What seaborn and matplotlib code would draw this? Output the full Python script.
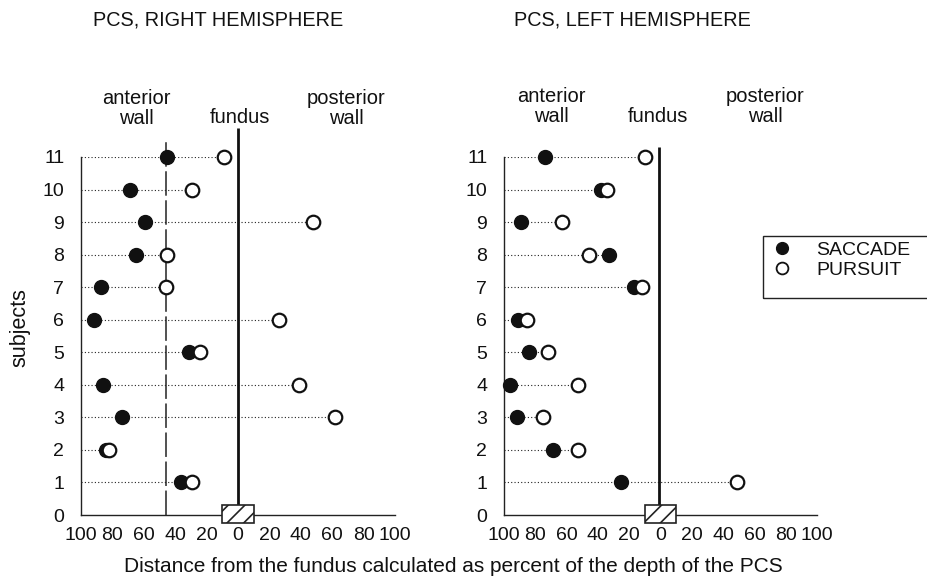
import matplotlib
matplotlib.use("Agg")
import matplotlib.pyplot as plt
import seaborn as sns
import numpy as np
import pandas as pd
from matplotlib.patches import Rectangle
from matplotlib.lines import Line2D

sns.set_theme(style="white")
plt.rcParams['font.family'] = ['Liberation Sans', 'DejaVu Sans']
plt.rcParams['hatch.linewidth'] = 1.2

subjects = list(range(1, 12))
# Right hemisphere (negative = anterior wall, positive = posterior wall)
right_saccade = [-36, -84, -74, -86, -31, -92, -87, -65, -59, -69, -45]
right_pursuit = [-29, -82, 62, 39, -24, 26, -46, -45, 48, -29, -9]
# Left hemisphere
left_saccade = [-25, -69, -92, -96, -84, -91, -17, -33, -89, -38, -74]
left_pursuit = [49, -53, -75, -53, -72, -85, -12, -46, -63, -34, -10]

tick_vals = [-100, -80, -60, -40, -20, 0, 20, 40, 60, 80, 100]
tick_labels = ["100", "80", "60", "40", "20", "0", "20", "40", "60", "80", "100"]

W, H = 927, 577
fig = plt.figure(figsize=(W / 100, H / 100), dpi=100)

def fx(px):
    return px / W

def fy(py):
    return 1 - py / H

ax_r = fig.add_axes([fx(81), fy(515), fx(395) - fx(81), fy(157) - fy(515)])
ax_l = fig.add_axes([fx(504), fy(515), fx(817) - fx(504), fy(157) - fy(515)])

panels = [
    (ax_r, right_saccade, right_pursuit, "PCS, RIGHT HEMISPHERE", 218, 0, 11.9, True,
     (-65, 69, 1, 12.5, 12.2)),
    (ax_l, left_saccade, left_pursuit, "PCS, LEFT HEMISPHERE", 632, -1, 11.3, False,
     (-70, 67, -1.5, 12.55, 12.25)),
]

for ax, sac, pur, title, tx, fund_x, fund_top, dashed, ann in panels:
    df = pd.DataFrame({"subject": subjects, "saccade": sac, "pursuit": pur})
    df["maxv"] = df[["saccade", "pursuit"]].max(axis=1)
    ax.hlines(df["subject"], -100, df["maxv"], colors="#222222",
              linestyles=(0, (1, 2)), linewidth=0.8, zorder=1)
    ax.plot([fund_x, fund_x], [0, fund_top], color="#111111", lw=2.0,
            clip_on=False, zorder=2, solid_capstyle="butt")
    if dashed:
        ax.plot([-46, -46], [0, 11.5], color="#222222", lw=1.1,
                dashes=(16, 3), clip_on=False, zorder=1)
    sns.scatterplot(data=df, x="saccade", y="subject", ax=ax, color="#111111",
                    edgecolor="#111111", s=100, linewidth=1.0, zorder=3,
                    clip_on=False, legend=False)
    sns.scatterplot(data=df, x="pursuit", y="subject", ax=ax, color="white",
                    edgecolor="#111111", s=95, linewidth=1.6, zorder=4,
                    clip_on=False, legend=False)
    ax.add_patch(Rectangle((-10, -0.25), 20, 0.55, facecolor="white",
                           edgecolor="#222222", hatch="//", lw=1.2,
                           clip_on=False, zorder=5))
    ax.set_xlim(-100, 100)
    ax.set_ylim(0, 11)
    ax.set_xticks(tick_vals)
    ax.set_xticklabels(tick_labels)
    ax.set_yticks(list(range(0, 12)))
    ax.set_xlabel("")
    ax.set_ylabel("")
    for s in ["top", "right"]:
        ax.spines[s].set_visible(False)
    for s in ["left", "bottom"]:
        ax.spines[s].set_color("#222222")
        ax.spines[s].set_linewidth(1.0)
    ax.tick_params(axis="both", direction="out", length=5, width=1.0,
                   color="#222222", labelsize=14, labelcolor="#111111")
    ax.tick_params(axis="y", pad=7)
    ax.tick_params(axis="x", pad=4)
    ax.patch.set_alpha(0)
    ant_x, post_x, fund_lx, wall_y, fund_y = ann
    ax.text(ant_x, wall_y, "anterior\nwall", ha="center", va="center",
            fontsize=14.5, linespacing=1.05, color="#111111", clip_on=False)
    ax.text(post_x, wall_y, "posterior\nwall", ha="center", va="center",
            fontsize=14.5, linespacing=1.05, color="#111111", clip_on=False)
    ax.text(fund_lx, fund_y, "fundus", ha="center", va="center",
            fontsize=14.5, color="#111111", clip_on=False)
    fig.text(fx(tx), fy(20), title, ha="center", va="center", fontsize=14.3,
             color="#111111")

fig.text(fx(453), fy(567), "Distance from the fundus calculated as percent of the depth of the PCS",
         ha="center", va="center", fontsize=15, color="#111111")
fig.text(fx(20), fy(328), "subjects", ha="center", va="center", rotation=90,
         fontsize=15.5, color="#111111")

# legend box (extends beyond the right edge)
fig.add_artist(Rectangle((fx(763), fy(298)), fx(960) - fx(763), fy(236) - fy(298),
                         transform=fig.transFigure, facecolor="none",
                         edgecolor="#222222", lw=1.0, clip_on=False))
handles = [
    Line2D([], [], marker="o", linestyle="none", markersize=8.5,
           markerfacecolor="#111111", markeredgecolor="#111111"),
    Line2D([], [], marker="o", linestyle="none", markersize=8.5,
           markerfacecolor="white", markeredgecolor="#111111", markeredgewidth=1.3),
]
fig.legend(handles, ["SACCADE", "PURSUIT"], loc="center left",
           bbox_to_anchor=(fx(764), fy(260)), frameon=False, fontsize=14,
           handletextpad=1.3, labelspacing=0.1, borderaxespad=0,
           handlelength=1.0, labelcolor="#111111")

fig.savefig("out.png", dpi=100)
